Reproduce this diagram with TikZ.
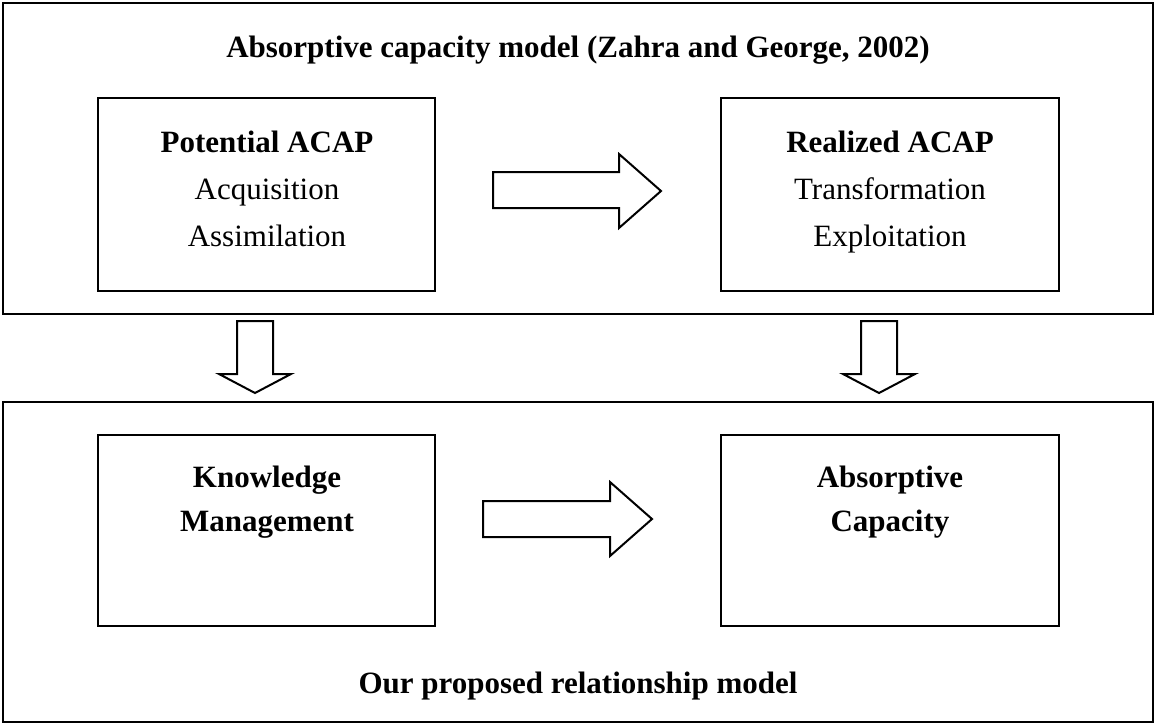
\documentclass[tikz,border=0pt]{standalone}
\usepackage{fontspec}
\setmainfont{Liberation Serif}
\usepackage{tikz}

\begin{document}
\begin{tikzpicture}[x=0.5pt,y=0.5pt,yscale=-1,xscale=1,line width=1pt,
  lbl/.style={anchor=base,inner sep=0.75pt,font=\fontsize{15.5}{22}\selectfont},
  hd/.style={lbl,font=\fontsize{15.5}{22}\selectfont\bfseries}]
\useasboundingbox (0,0) rectangle (1156,724);
% outer frames
\draw   (3,3) -- (1153,3) -- (1153,314) -- (3,314) -- cycle ;
\draw   (3,402) -- (1153,402) -- (1153,722) -- (3,722) -- cycle ;
% inner boxes
\draw   (98,98) -- (435,98) -- (435,291) -- (98,291) -- cycle ;
\draw   (721,98) -- (1059,98) -- (1059,291) -- (721,291) -- cycle ;
\draw   (98,435) -- (435,435) -- (435,626) -- (98,626) -- cycle ;
\draw   (721,435) -- (1059,435) -- (1059,626) -- (721,626) -- cycle ;
% block arrows
\draw   (493,172) -- (619,172) -- (619,154) -- (661,191) -- (619,228) -- (619,208) -- (493,208) -- cycle ;
\draw   (483,501) -- (610,501) -- (610,482) -- (652,519) -- (610,556) -- (610,537) -- (483,537) -- cycle ;
\draw   (237,321) -- (273,321) -- (273,374) -- (291,374) -- (255,393) -- (219,374) -- (237,374) -- cycle ;
\draw   (861,321) -- (897,321) -- (897,374) -- (915,374) -- (879,393) -- (843,374) -- (861,374) -- cycle ;
% texts
\node[hd] (title) at (578,57) {Absorptive capacity model (Zahra and George, 2002)};
\node[hd] (pot) at (267,152) {Potential ACAP};
\node[lbl] (acq) at (267,199) {Acquisition};
\node[lbl] (ass) at (267,246) {Assimilation};
\node[hd] (real) at (890,152) {Realized ACAP};
\node[lbl] (trans) at (890,199) {Transformation};
\node[lbl] (expl) at (890,246) {Exploitation};
\node[hd] (know) at (267,487) {Knowledge};
\node[hd] (mgmt) at (267,531) {Management};
\node[hd] (abs) at (890,487) {Absorptive};
\node[hd] (cap) at (890,531) {Capacity};
\node[hd] (ours) at (578,693) {Our proposed relationship model};
\end{tikzpicture}
\end{document}
